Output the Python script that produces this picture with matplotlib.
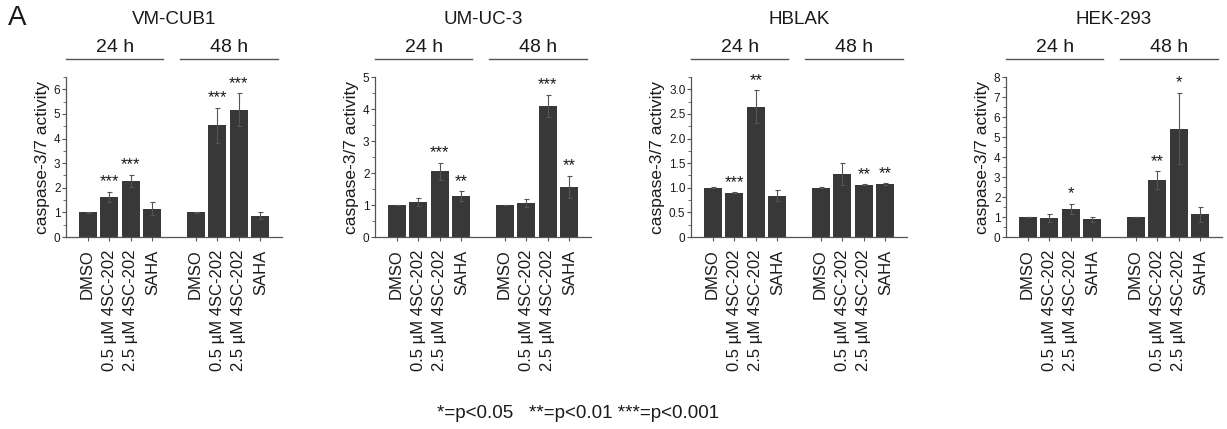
import matplotlib
matplotlib.use("Agg")
import matplotlib.pyplot as plt
import matplotlib.transforms as mtransforms
from matplotlib.ticker import MultipleLocator, FuncFormatter

plt.rcParams['font.family'] = ['Liberation Sans', 'DejaVu Sans']

treatments = ["DMSO", "0.5 µM 4SC-202", "2.5 µM 4SC-202", "SAHA"]
timepoints = ["24 h", "48 h"]
cell_lines = ["VM-CUB1", "UM-UC-3", "HBLAK", "HEK-293"]

# values: 24 h (DMSO, 0.5, 2.5, SAHA) then 48 h
vmcub1_mean = [1.0, 1.64, 2.28, 1.15, 1.0, 4.53, 5.17, 0.87]
vmcub1_err = [0.02, 0.2, 0.25, 0.27, 0.02, 0.72, 0.66, 0.15]
vmcub1_sig = ["", "***", "***", "", "", "***", "***", ""]

umuc3_mean = [1.0, 1.10, 2.05, 1.27, 1.0, 1.07, 4.10, 1.57]
umuc3_err = [0.01, 0.13, 0.27, 0.16, 0.01, 0.13, 0.35, 0.35]
umuc3_sig = ["", "", "***", "**", "", "", "***", "**"]

hblak_mean = [1.0, 0.90, 2.65, 0.84, 1.0, 1.28, 1.06, 1.07]
hblak_err = [0.01, 0.005, 0.33, 0.11, 0.01, 0.23, 0.01, 0.02]
hblak_sig = ["", "***", "**", "", "", "", "**", "**"]

hek293_mean = [1.0, 0.95, 1.41, 0.88, 1.0, 2.83, 5.42, 1.13]
hek293_err = [0.01, 0.2, 0.25, 0.13, 0.02, 0.45, 1.78, 0.36]
hek293_sig = ["", "", "*", "", "", "**", "*", ""]

means = [vmcub1_mean, umuc3_mean, hblak_mean, hek293_mean]
errs = [vmcub1_err, umuc3_err, hblak_err, hek293_err]
sigs = [vmcub1_sig, umuc3_sig, hblak_sig, hek293_sig]
ylims = [6.5, 5, 3.25, 8]
major_steps = [1, 1, 0.5, 1]

positions = [0, 1, 2, 3, 5, 6, 7, 8]
lefts = [66, 375, 691, 1006]

W, H = 1227, 429
fig = plt.figure(figsize=(W / 100, H / 100), dpi=100)

bar_color = "#383838"
txt = "#1a1a1a"

for i in range(4):
    ax = fig.add_axes([lefts[i] / W, (H - 237) / H, 216 / W, 160 / H])
    ax.bar(positions, means[i], width=0.84, color=bar_color, zorder=2)
    ax.errorbar(positions, means[i], yerr=errs[i], fmt="none", ecolor="#555555",
                elinewidth=0.8, capsize=1.8, capthick=0.8, zorder=3)
    for x, m, e, s in zip(positions, means[i], errs[i], sigs[i]):
        if s:
            ax.text(x, m + e + 0.015 * ylims[i], s, ha="center", va="bottom",
                    fontsize=12, color=txt)
    ax.set_xlim(-1, 9)
    ax.set_ylim(0, ylims[i])
    ax.yaxis.set_major_locator(MultipleLocator(major_steps[i]))
    ax.yaxis.set_minor_locator(MultipleLocator(major_steps[i] / 2))
    if major_steps[i] < 1:
        ax.yaxis.set_major_formatter(FuncFormatter(lambda v, p: "0" if v == 0 else f"{v:.1f}"))
    ax.set_xticks(positions)
    ax.set_xticklabels(treatments * 2, rotation=90, fontsize=12, color=txt)
    ax.tick_params(axis="x", length=3, width=0.8, pad=6, color="#555555")
    ax.tick_params(axis="y", which="major", length=3, width=0.8, pad=1, labelsize=8.5,
                   color="#555555", labelcolor=txt)
    ax.tick_params(axis="y", which="minor", length=2, width=0.6, color="#555555")
    for sp in ["top", "right"]:
        ax.spines[sp].set_visible(False)
    for sp in ["left", "bottom"]:
        ax.spines[sp].set_color("#555555")
        ax.spines[sp].set_linewidth(0.9)
    ax.set_ylabel("caspase-3/7 activity", fontsize=12.5, color=txt, labelpad=3)

    trans = mtransforms.blended_transform_factory(ax.transData, fig.transFigure)
    for (x0, x1), label in zip([(-1.0, 3.5), (4.3, 8.8)], timepoints):
        ax.plot([x0, x1], [(H - 59) / H] * 2, color="#555555", lw=1.0,
                transform=trans, clip_on=False)
        ax.text((x0 + x1) / 2, (H - 47) / H, label, transform=trans, ha="center",
                va="center", fontsize=14, color=txt)
    ax.text(4, (H - 20) / H, cell_lines[i], transform=trans, ha="center",
            va="center", fontsize=13.5, color=txt)

fig.text(8 / W, (H - 18) / H, "A", fontsize=20, ha="left", va="center", color=txt)
fig.text(437 / W, (H - 413) / H, "*=p<0.05   **=p<0.01 ***=p<0.001", fontsize=13.5,
         ha="left", va="center", color=txt)

fig.savefig("out.png", dpi=100)
